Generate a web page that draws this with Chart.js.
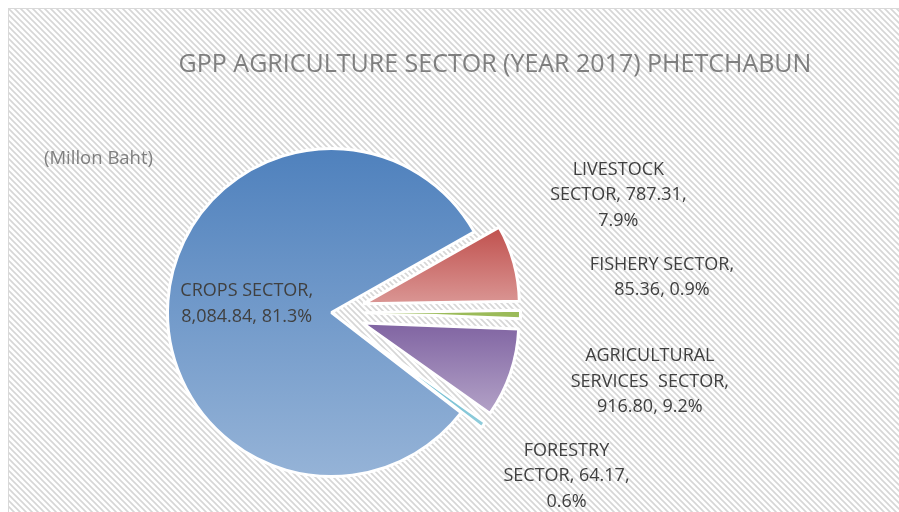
<!DOCTYPE html>
<html>
<head>
<meta charset="utf-8">
<script src="https://cdn.jsdelivr.net/npm/chart.js@4.4.1/dist/chart.umd.min.js"></script>
<style>
  html, body { margin: 0; padding: 0; background: #fff; }
  #wrap { width: 899px; height: 512px; position: relative; }
</style>
</head>
<body>
<div id="wrap"><canvas id="gppChart"></canvas></div>
<script>
// data (million baht)
const sectors = ['CROPS SECTOR', 'LIVESTOCK SECTOR', 'FISHERY SECTOR', 'AGRICULTURAL SERVICES  SECTOR', 'FORESTRY SECTOR'];
const gppValues = [8084.84, 787.31, 85.36, 916.80, 64.17];
const chartTitle = 'GPP AGRICULTURE SECTOR (YEAR 2017) PHETCHABUN';
const unitLabel = '(Millon Baht)';

// styling
const topColors = ['#4F81BD', '#C0504D', '#9BBB59', '#8064A2', '#4BACC6'];
const bottomColors = ['#95B3D7', '#DA9694', '#9BBB59', '#B3A2C7', '#92CDDC'];
const explode = [0, 33, 33, 33, 33];
const explodeShrink = 8;
// label anchor relative to pie centre, in units of radius, and wrap width
const labelAnchors = [[-0.517, -0.071], [1.749, -0.734], [2.015, -0.232], [1.941, 0.402], [1.433, 0.978]];
const wrapWidths = [150, 150, 160, 175, 135];

const total = gppValues.reduce((a, b) => a + b, 0);
const fmtValue = v => v.toLocaleString('en-US', { minimumFractionDigits: 2, maximumFractionDigits: 2 });
const fmtPct = v => (v / total * 100).toFixed(1) + '%';

// hatched background tile
function makeHatch() {
    const c = document.createElement('canvas');
    c.width = 6; c.height = 6;
    const g = c.getContext('2d');
    g.fillStyle = '#ffffff';
    g.fillRect(0, 0, 6, 6);
    g.strokeStyle = '#d6d6d6';
    g.lineWidth = 1.6;
    g.beginPath();
    g.moveTo(-1, -1); g.lineTo(7, 7);
    g.moveTo(-4, 2); g.lineTo(4, 10);
    g.moveTo(2, -4); g.lineTo(10, 4);
    g.stroke();
    return c;
}

const backgroundPlugin = {
    id: 'hatchBackground',
    beforeDraw(chart) {
        const ctx = chart.ctx;
        ctx.save();
        ctx.fillStyle = '#ffffff';
        ctx.fillRect(0, 0, chart.width, chart.height);
        ctx.fillStyle = ctx.createPattern(makeHatch(), 'repeat');
        ctx.fillRect(9, 9, chart.width, chart.height);
        ctx.strokeStyle = '#d9d9d9';
        ctx.lineWidth = 1;
        ctx.strokeRect(8.5, 8.5, chart.width + 10, chart.height + 10);
        ctx.restore();
    }
};

// pull the small slices out like the Excel original
const explodePlugin = {
    id: 'explodeSlices',
    afterDatasetUpdate(chart, args) {
        args.meta.data.forEach((arc, i) => {
            if (!explode[i]) return;
            const mid = (arc.startAngle + arc.endAngle) / 2;
            arc.x += Math.cos(mid) * explode[i];
            arc.y += Math.sin(mid) * explode[i];
            arc.outerRadius -= explodeShrink;
        });
    },
    beforeDatasetsDraw(chart) {
        const ctx = chart.ctx;
        chart.getDatasetMeta(0).data.forEach((arc, i) => {
            const r = arc.outerRadius;
            const ys = [arc.y, arc.y + r * Math.sin(arc.startAngle), arc.y + r * Math.sin(arc.endAngle)];
            [-Math.PI / 2, Math.PI / 2].forEach(a => {
                for (let k = -2; k <= 2; k++) {
                    const t = a + k * 2 * Math.PI;
                    if (t > arc.startAngle && t < arc.endAngle) ys.push(arc.y + r * Math.sin(t));
                }
            });
            const grad = ctx.createLinearGradient(0, Math.min(...ys), 0, Math.max(...ys));
            grad.addColorStop(0, topColors[i]);
            grad.addColorStop(1, bottomColors[i]);
            arc.options.backgroundColor = grad;
        });
    }
};

function wrapText(ctx, text, maxWidth) {
    const words = text.split(' ');
    const lines = [];
    let line = '';
    words.forEach(w => {
        const test = line === '' ? w : line + ' ' + w;
        if (line !== '' && ctx.measureText(test).width > maxWidth) {
            lines.push(line);
            line = w;
        } else {
            line = test;
        }
    });
    if (line) lines.push(line);
    return lines;
}

const textPlugin = {
    id: 'texts',
    afterDraw(chart) {
        const ctx = chart.ctx;
        ctx.save();
        ctx.textBaseline = 'middle';
        ctx.fillStyle = '#7f7f7f';
        ctx.textAlign = 'center';
        ctx.font = '25px "Open Sans"';
        ctx.fillText(chartTitle, 495, 65);
        ctx.textAlign = 'left';
        ctx.font = '18.5px "Open Sans"';
        ctx.fillText(unitLabel, 44, 159);

        const base = chart.getDatasetMeta(0).data[0];
        const cx = base.x, cy = base.y, r = base.outerRadius;
        ctx.fillStyle = '#404040';
        ctx.textAlign = 'center';
        ctx.font = '18px "Open Sans"';
        const lineH = 25.5;
        sectors.forEach((name, i) => {
            const text = name + ', ' + fmtValue(gppValues[i]) + ', ' + fmtPct(gppValues[i]);
            const lines = wrapText(ctx, text, wrapWidths[i]);
            const ax = cx + labelAnchors[i][0] * r;
            const ay = cy + labelAnchors[i][1] * r + 3;
            const y0 = ay - (lines.length - 1) * lineH / 2;
            lines.forEach((l, k) => ctx.fillText(l, ax, y0 + k * lineH));
        });
        ctx.restore();
    }
};

new Chart(document.getElementById('gppChart'), {
    type: 'pie',
    data: {
        labels: sectors,
        datasets: [{
            data: gppValues,
            backgroundColor: ctx => topColors[ctx.dataIndex],
            borderColor: '#ffffff',
            borderWidth: 3
        }]
    },
    options: {
        responsive: true,
        maintainAspectRatio: false,
        animation: false,
        events: [],
        rotation: 127.7,
        layout: { padding: { left: 166, right: 402, top: 147, bottom: 34 } },
        plugins: {
            legend: { display: false },
            title: { display: false },
            tooltip: { enabled: false }
        }
    },
    plugins: [backgroundPlugin, explodePlugin, textPlugin]
});
</script>
</body>
</html>
